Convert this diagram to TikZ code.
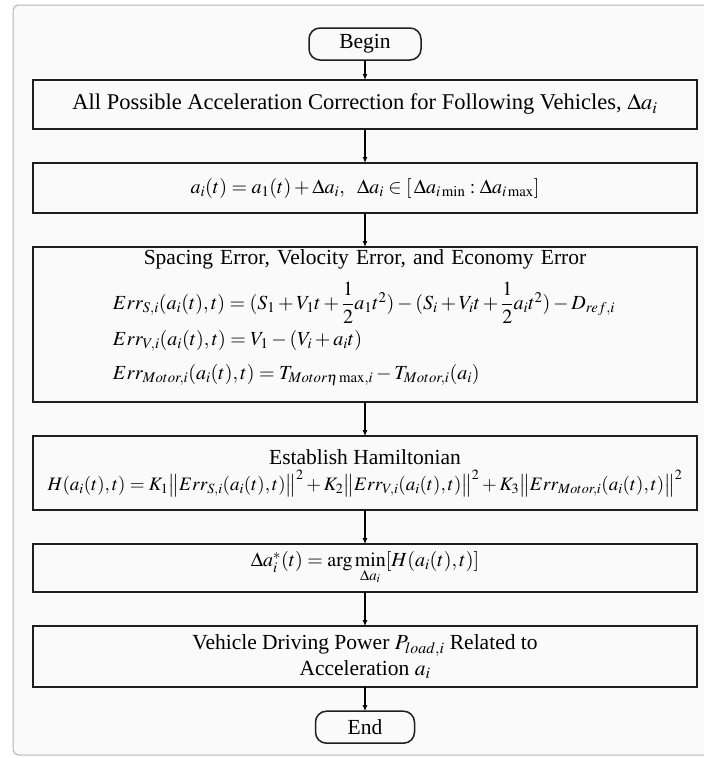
\documentclass[tikz,border=0pt]{standalone}
\usepackage{amsmath}
\usepackage{mathptmx}
\usepackage{fontspec}
\setmainfont{Liberation Serif}
\usetikzlibrary{positioning, arrows.meta}
\definecolor{framegray}{HTML}{B4B4B4}
\definecolor{paper}{HTML}{FAFAFA}
\definecolor{ink}{HTML}{1E1E1E}
\newcommand{\eqsize}{\fontsize{20}{24}\selectfont}
\tikzset{box node/.style={draw=ink, line width=1.8pt, outer sep=0pt, minimum width=664pt, text width=640pt, inner xsep=12pt, inner ysep=3pt, align=flush center},
	term node/.style={draw=ink, line width=1.5pt, outer sep=0pt, rounded corners=11pt, minimum height=32pt, inner sep=2pt},
	frame/.style={draw=framegray, line width=1pt, fill=paper, rounded corners=6pt},}

\begin{document}
\begin{tikzpicture}[-{Latex[length=6pt,width=5pt]}, line width=1.2pt, font=\fontsize{21.5}{26}\selectfont]
			% Frame
			\useasboundingbox (0,0) rectangle (704pt,-758pt);
			\draw[frame, -] (13pt,-5pt) rectangle (714pt,-755pt);
			% Steps
			\node[term node, minimum width=112pt] (begin) at (365pt,-44pt) {Begin};
			\node[box node, minimum height=49pt, font=\fontsize{22.5}{27}\selectfont] [below = 20pt of begin] (corr) {All Possible Acceleration Correction for Following Vehicles, $\Delta a_i$};
			\node[box node, minimum height=50pt, font=\eqsize] [below = 34pt of corr] (accel) {$a_i(t)=a_1(t)+\Delta a_i,\ \ \Delta a_i\in[\,\Delta a_{i\min}:\Delta a_{i\max}]$};
			\node[box node, minimum height=152pt, align=left] [below = 34pt of accel] (err) {\makebox[640pt]{Spacing Error, Velocity Error, and Economy Error}\\[12pt]
				{\eqsize\hspace*{68pt}$Err_{S,i}(a_i(t),t)=(S_1+V_1t+\dfrac{1}{2}a_1t^2)-(S_i+V_it+\dfrac{1}{2}a_it^2)-D_{ref,i}$}\\[6pt]
				{\eqsize\hspace*{68pt}$Err_{V,i}(a_i(t),t)=V_1-(V_i+a_it)$}\\[8pt]
				{\eqsize\hspace*{68pt}$Err_{Motor,i}(a_i(t),t)=T_{Motor\eta\max,i}-T_{Motor,i}(a_i)$}\\[-6pt]
				\mbox{}};
			\node[box node, minimum height=74pt] [below = 34pt of err] (ham) {Establish Hamiltonian\\
				\makebox[640pt]{\fontsize{19}{23}\selectfont$H(a_i(t),t)=K_1\big\|Err_{S,i}(a_i(t),t)\big\|^2+K_2\big\|Err_{V,i}(a_i(t),t)\big\|^2+K_3\big\|Err_{Motor,i}(a_i(t),t)\big\|^2$}};
			\node[box node, minimum height=48pt, font=\eqsize] [below = 34pt of ham] (opt) {$\Delta a_i^*(t)=\arg\min\limits_{\Delta a_i}[H(a_i(t),t)]$};
			\node[box node, minimum height=61pt] [below = 34pt of opt] (power) {Vehicle Driving Power $P_{load,i}$ Related to\\Acceleration $a_i$};
			\node[term node, minimum width=99pt] [below = 24pt of power] (end) {End};
			% Arrows
			\path
			(begin) edge (corr)
			(corr) edge (accel)
			(accel) edge (err)
			(err) edge (ham)
			(ham) edge (opt)
			(opt) edge (power)
			(power) edge (end);
		\end{tikzpicture}
\end{document}
